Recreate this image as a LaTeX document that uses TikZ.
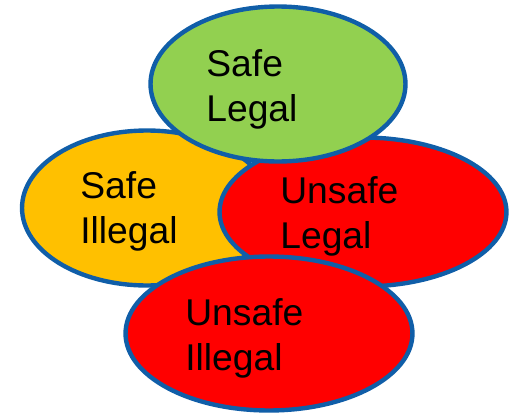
\documentclass[tikz,border=0pt]{standalone}
\usepackage{fontspec}
\setmainfont{Liberation Sans}
\usepackage{xcolor}
\usepackage{tikz}
\usetikzlibrary{shapes.geometric}
\definecolor{EdgeBlue}{RGB}{16,94,168}
\definecolor{SafeGreen}{RGB}{146,208,80}
\definecolor{WarnOrange}{RGB}{255,192,0}
\definecolor{RiskRed}{RGB}{255,0,0}
\tikzset{
  zone/.style={ellipse, draw=EdgeBlue, line width=2.5pt, inner sep=0pt},
  zonetxt/.style={anchor=base west, align=left, inner sep=0pt,
    font=\fontsize{21.2}{25.5}\selectfont},
}
\begin{document}
\begin{tikzpicture}[x=0.02cm, y=-0.02cm]
  \useasboundingbox (0,0) rectangle (512,413);
  \node[zone, fill=WarnOrange, minimum width=5cm, minimum height=3.1cm] (si) at (147,208) {};
  \node[zone, fill=RiskRed, minimum width=5.74cm, minimum height=2.98cm] (ul) at (363,212) {};
  \node[zone, fill=SafeGreen, minimum width=5.1cm, minimum height=3.1cm] (sl) at (278,84) {};
  \node[zone, fill=RiskRed, minimum width=5.74cm, minimum height=3.08cm] (ui) at (269,333.5) {};
  % base anchor sits on the last line
  \node[zonetxt] (sltxt) at (206,121.7) {Safe\\Legal};
  \node[zonetxt] (sitxt) at (80,243) {Safe\\Illegal};
  \node[zonetxt] (ultxt) at (280,248) {Unsafe\\Legal};
  \node[zonetxt] (uitxt) at (185,370) {Unsafe\\Illegal};
\end{tikzpicture}
\end{document}
